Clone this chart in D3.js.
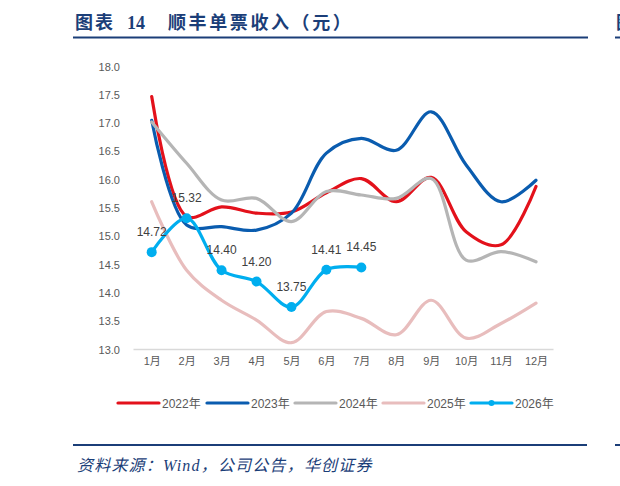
<!DOCTYPE html>
<html><head><meta charset="utf-8">
<script src="https://cdn.jsdelivr.net/npm/d3@7"></script>
<style>
html,body{margin:0;padding:0;background:#fff;}
svg{display:block;}
</style></head>
<body>
<svg id="c" width="620" height="486"></svg>
<script>
const months = ["1月","2月","3月","4月","5月","6月","7月","8月","9月","10月","11月","12月"];
const yTicks = [13.0,13.5,14.0,14.5,15.0,15.5,16.0,16.5,17.0,17.5,18.0];
const seriesNames = ["2022年","2023年","2024年","2025年","2026年"];
const s2022 = [17.47,15.35,15.52,15.41,15.43,15.77,16.02,15.61,16.04,15.08,14.85,15.88];
const s2023 = [17.05,15.20,15.17,15.11,15.41,16.47,16.73,16.52,17.20,16.26,15.61,15.99];
const s2024 = [17.02,16.29,15.64,15.67,15.26,15.79,15.73,15.67,16.02,14.58,14.73,14.55];
const s2025 = [15.61,14.40,13.87,13.52,13.12,13.67,13.55,13.26,13.87,13.20,13.46,13.82];
const s2026 = [14.72,15.32,14.40,14.20,13.75,14.41,14.45];
const colors = ["#E3111B","#0A5CAF","#B5B5B5","#E8BDBD","#00AEEF"];

const svg = d3.select("#c");
const navy = "#1B3E78";
const cjkSerif = "'Liberation Serif','DejaVu Serif','Noto Sans CJK SC'";

// title
const title = svg.append("text").attr("y",28.5)
  .attr("font-family",cjkSerif).attr("font-weight","bold")
  .attr("font-size",18).attr("fill",navy);
title.append("tspan").attr("x",75).attr("letter-spacing",2).text("图表");
title.append("tspan").attr("x",127).text("14");
title.append("tspan").attr("x",168).attr("letter-spacing",2.6).text("顺丰单票收入（元）");
svg.append("line").attr("x1",73).attr("x2",588).attr("y1",37.5).attr("y2",37.5)
  .attr("stroke",navy).attr("stroke-width",2);
svg.append("line").attr("x1",615).attr("x2",620).attr("y1",37.5).attr("y2",37.5)
  .attr("stroke",navy).attr("stroke-width",2);
svg.append("text").attr("x",616).attr("y",28.5)
  .attr("font-family",cjkSerif).attr("font-weight","bold")
  .attr("font-size",18).attr("fill",navy).text("图");

// scales
const x = d3.scalePoint().domain(months).range([151.7,536]);
const y = d3.scaleLinear().domain([13,18]).range([349.5,66.5]);

// y axis labels
const yAxis = d3.axisLeft(y).tickValues(yTicks).tickFormat(d3.format(".1f")).tickSize(0).tickPadding(0);
const gy = svg.append("g").attr("transform","translate(120,0)").call(yAxis);
gy.select(".domain").remove();
gy.selectAll("text").attr("font-family","Arial, 'Liberation Sans'").attr("font-size",11).attr("fill","#595959");

// x axis
const xAxis = d3.axisBottom(x).tickSize(0).tickPadding(8);
const gx = svg.append("g").attr("transform","translate(0,349.5)").call(xAxis);
gx.select(".domain").remove();
gx.selectAll("text").attr("font-family","Arial, 'Noto Sans CJK SC'").attr("font-size",11).attr("fill","#595959");
svg.append("line").attr("x1",133.5).attr("x2",553.5).attr("y1",349.5).attr("y2",349.5)
  .attr("stroke","#D9D9D9").attr("stroke-width",1.5);

const line = d3.line().x((d,i)=>x(months[i])).y(d=>y(d)).curve(d3.curveCatmullRom.alpha(0.5));
const all = [s2022,s2023,s2024,s2025,s2026];
all.forEach((s,k)=>{
  svg.append("path").attr("d",line(s)).attr("fill","none")
    .attr("stroke",colors[k]).attr("stroke-width",3.2).attr("stroke-linecap","round");
});
// 2026 markers and labels
svg.selectAll("circle.m").data(s2026).enter().append("circle")
  .attr("cx",(d,i)=>x(months[i])).attr("cy",d=>y(d)).attr("r",5).attr("fill",colors[4]);
svg.selectAll("text.lab").data(s2026).enter().append("text")
  .attr("x",(d,i)=>x(months[i])).attr("y",d=>y(d)-16)
  .attr("text-anchor","middle").attr("font-family","Arial, 'Liberation Sans'")
  .attr("font-size",12).attr("fill","#404040").text(d=>d.toFixed(2));

// legend
const lx = [118,207,295,383,471];
seriesNames.forEach((n,k)=>{
  const g = svg.append("g");
  g.append("line").attr("x1",lx[k]).attr("x2",lx[k]+41).attr("y1",403).attr("y2",403)
    .attr("stroke",colors[k]).attr("stroke-width",3.2).attr("stroke-linecap","round");
  if(k===4) g.append("circle").attr("cx",lx[k]+20.5).attr("cy",403).attr("r",3).attr("fill",colors[k]);
  g.append("text").attr("x",lx[k]+44).attr("y",407.5)
    .attr("font-family","Arial, 'Noto Sans CJK SC'").attr("font-size",12).attr("fill","#595959").text(n);
});

// footer
svg.append("line").attr("x1",73).attr("x2",587).attr("y1",445).attr("y2",445)
  .attr("stroke",navy).attr("stroke-width",2);
svg.append("line").attr("x1",615).attr("x2",620).attr("y1",445).attr("y2",445)
  .attr("stroke",navy).attr("stroke-width",2);
svg.append("text").attr("x",77).attr("y",471)
  .attr("font-family",cjkSerif).attr("font-style","italic")
  .attr("font-size",16).attr("letter-spacing",1.2).attr("fill",navy).text("资料来源：Wind，公司公告，华创证券");
</script>
</body></html>
